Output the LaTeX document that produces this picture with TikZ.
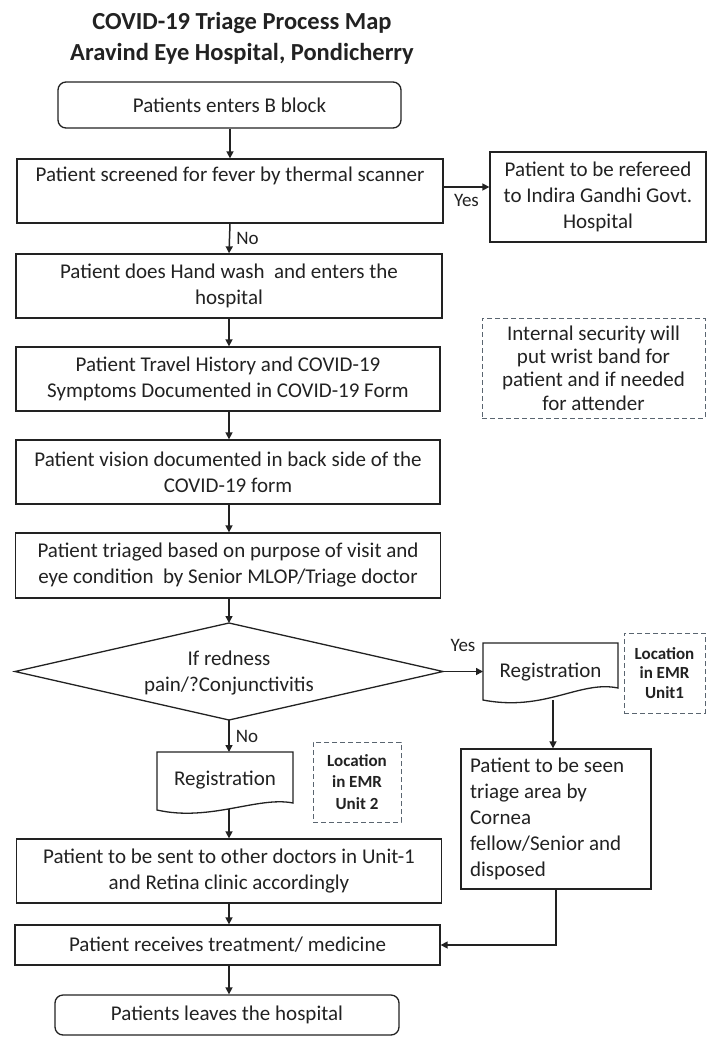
\documentclass[tikz,border=0pt]{standalone}
\usepackage{fontspec}
\setmainfont{Carlito}
\usetikzlibrary{arrows.meta,calc}
\definecolor{ink}{HTML}{222222}
\definecolor{dashc}{HTML}{5A6570}
\begin{document}
\begin{tikzpicture}[x=1pt,y=-1pt,
  txt/.style={font=\fontsize{21}{26}\selectfont, text=ink, align=center, inner sep=0pt},
  box/.style={txt, draw=ink, line width=1.3pt},
  term/.style={box, rounded corners=8pt},
  dbox/.style={txt, draw=dashc, line width=1pt, dash pattern=on 5pt off 3pt},
  small/.style={font=\bfseries\fontsize{17}{20}\selectfont},
  lbl/.style={font=\fontsize{19}{20}\selectfont, text=ink, inner sep=0pt},
  arr/.style={line width=1.5pt, draw=ink, -{Triangle[length=7pt,width=7pt]}},
  shp/.style={draw=ink, line width=1.3pt, fill=white}]
\useasboundingbox (0,0) rectangle (707,1037);
\fill[white] (0,0) rectangle (707,1037);

% title
\node[txt, font=\bfseries\fontsize{24.5}{28}\selectfont] (t1) at (242,23) {COVID-19 Triage Process Map};
\node[txt, font=\bfseries\fontsize{24.5}{28}\selectfont] (t2) at (242,54) {Aravind Eye Hospital, Pondicherry};

% main column
\node[term, minimum width=343pt, minimum height=46pt] (start) at (229.5,105) {Patients enters B block};
\node[box, minimum width=426pt, minimum height=64pt] (scr) at (230,191) {Patient screened for fever by thermal scanner\\\strut};
\node[box, minimum width=216pt, minimum height=90pt] (ref) at (598,197) {Patient to be refereed\\to Indira Gandhi Govt.\\Hospital};
\node[box, minimum width=426pt, minimum height=64pt] (wash) at (229,286) {Patient does Hand wash\ \ and enters the\\hospital};
\node[dbox, minimum width=223pt, minimum height=100pt, font=\fontsize{21}{23.3}\selectfont] (sec) at (593.5,368) {Internal security will\\put wrist band for\\patient and if needed\\for attender};
\node[box, minimum width=424pt, minimum height=64pt] (hist) at (228,379) {Patient Travel History and COVID-19\\Symptoms Documented in COVID-19 Form};
\node[box, minimum width=424pt, minimum height=64pt] (vis) at (228,472) {Patient vision documented in back side of the\\COVID-19 form};
\node[box, minimum width=425pt, minimum height=65pt] (tri) at (228,565.5) {Patient triaged based on purpose of visit and\\eye condition\ \ by Senior MLOP/Triage doctor};

% decision
\coordinate (dT) at (229,623);
\coordinate (dR) at (443,671.5);
\coordinate (dB) at (229,720);
\coordinate (dL) at (15,671.5);
\draw[shp] (dT) -- (dR) -- (dB) -- (dL) -- cycle;
\node[txt] (dq) at (229,673) {If redness\\pain/?Conjunctivitis};

% right registration
\draw[shp] (483,643) -- (618,643) -- (618,688) .. controls (580,680) and (545,712) .. (483,700) -- cycle;
\node[txt] (regR) at (550.5,672) {Registration};
\coordinate (regRw) at (483,671.5);
\coordinate (regRb) at (553,700);
\node[dbox, small, minimum width=81pt, minimum height=80pt, font=\bfseries\fontsize{17}{19.5}\selectfont] (loc1) at (664.5,673) {Location\\in EMR\\Unit1};

% left registration
\draw[shp] (157,752) -- (293,752) -- (293,803) .. controls (258,796) and (210,822) .. (157,810) -- cycle;
\node[txt] (regL) at (225,780) {Registration};
\coordinate (regLt) at (229,752);
\coordinate (regLb) at (229,809);
\node[dbox, small, minimum width=88pt, minimum height=80pt, font=\bfseries\fontsize{17}{21.5}\selectfont] (loc2) at (357,782) {Location\\in EMR\\Unit 2};

% cornea box
\node[box, minimum width=190pt, minimum height=140pt, text width=172pt, align=flush left] (corn) at (556,819) {Patient to be seen\\triage area by\\Cornea\\fellow/Senior and\\disposed};

\node[box, minimum width=425pt, minimum height=64pt] (sent) at (229,871) {Patient to be sent to other doctors in Unit-1\\and Retina clinic accordingly};
\node[box, minimum width=425pt, minimum height=40pt] (recv) at (227.5,945) {Patient receives treatment/ medicine};
\node[term, minimum width=344pt, minimum height=40pt] (stop) at (227,1015) {Patients leaves the hospital};

% connectors
\coordinate (yesA) at ($(scr.east)+(0,-4)$);
\coordinate (yesB) at (yesA -| ref.west);
\draw[arr] (start.south -| scr.north) -- (scr.north);
\draw[arr] (yesA) -- (yesB) node[lbl, midway, below=7pt] {Yes};
\draw[arr] (scr.south) -- (wash.north) node[lbl, midway, right=6pt] {No};
\draw[arr] (wash.south) -- (hist.north -| wash.south);
\draw[arr] (hist.south -| wash.south) -- (vis.north -| wash.south);
\draw[arr] (vis.south -| wash.south) -- (tri.north -| wash.south);
\draw[arr] (tri.south -| dT) -- (dT);
\draw[arr] (dR) -- (regRw) node[lbl, midway, above=19pt] {Yes};
\draw[arr] (dB) -- (regLt) node[lbl, midway, right=6pt] {No};
\draw[arr] (regLb) -- (sent.north -| regLb);
\draw[arr] (regRb) -- (corn.north -| regRb);
\draw[arr] (sent.south -| regLb) -- (recv.north -| regLb);
\draw[arr] (recv.south -| regLb) -- (stop.north -| regLb);
\draw[arr] (corn.south) |- (recv.east);
\end{tikzpicture}
\end{document}
